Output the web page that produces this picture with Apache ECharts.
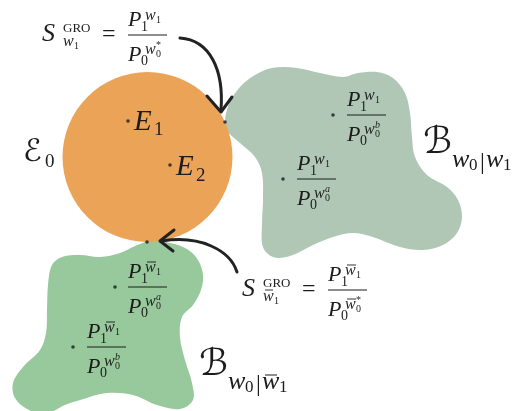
<!DOCTYPE html>
<html><head><meta charset="utf-8">
<script src="https://cdn.jsdelivr.net/npm/echarts@6/dist/echarts.min.js"></script>
<style>html,body{margin:0;padding:0;background:#fff}#c{width:526px;height:411px}</style>
</head><body><div id="c"></div>
<script>
// ---- data (diagram coordinates) ----
const circleE0 = [[147.5, 157, 85]]; // cx, cy, r
const blobRight = [[225,122],[229,104],[240,87],[255,75],[272,68],[297,68],[320,73],[343,77],[358,73],[377,72],[393,78],[405,93],[410,113],[412,137],[415,157],[427,175],[447,187],[458,200],[462,217],[457,233],[443,245],[423,250],[400,247],[373,237],[353,233],[333,237],[313,245],[290,256],[273,257],[263,247],[262,223],[263,200],[262,173],[255,157],[240,143],[228,132]];
const blobBottom = [[150,241],[170,243],[187,249],[198,260],[203,275],[201,290],[193,305],[182,317],[180,337],[185,360],[192,383],[193,400],[180,409],[157,405],[133,395],[107,393],[80,400],[65,405],[45,414],[27,409],[15,398],[13,383],[23,367],[40,350],[46,333],[47,310],[48,285],[52,265],[62,257],[80,255],[100,257],[120,253],[135,246]];
const dots = [[225,122],[147,242],[128,121],[170,165],[333,115],[283,179],[115,287],[73,347]];
const arrowTop = [[180,38],[210,40],[224,70],[221,110]];
const arrowTopHead = [[207,96],[221,112],[232,97]];
const arrowBottom = [[237,272],[230,250],[200,235],[162,241]];
const arrowBottomHead = [[174,230],[160,241],[173,251]];
// label anchors: [x, y, kind]
const eqAnchors = [[128,35,0],[328,290,1]];          // S^GRO = fraction (bar left end)
const fracAnchors = [[347,115,0],[297,179,1],[128,287,2],[87,347,3]];
const setAnchors = [[23,163,0],[134,132,1],[176,177,2],[423,155,3],[199,377,4]];

// ---- styles ----
const C_ORANGE = '#EBA358', C_GREY = '#AFC7B4', C_GREEN = '#98C99C', INK = '#1c1c1c';
const F = '"Liberation Serif","DejaVu Serif",serif';
const FM = '"DejaVu Serif","DejaVu Sans","Liberation Serif",serif';

function T(t, x, base, size, it, font) {
  return {type:'text', x:x, y:base - 0.32*size,
    style:{text:t, font:(it?'italic ':'') + size + 'px ' + (font||F), fill:INK, align:'left', verticalAlign:'middle'}};
}
function L(x1,y1,x2,y2,w){return {type:'line', shape:{x1,y1,x2,y2}, style:{stroke:INK, lineWidth:w||1}};}

function fraction(numBar, denBar, tag, tagIt) {
  const c = [L(0,0,39,0,1),
    T('P',0,-8,22,true), T('1',13,-3,14), T('w',17,-14,16,true), T('1',28,-11,10),
    T('P',0,27,22,true), T('0',13,31,14), T('w',17,20,16,true), T('0',28,23,10), T(tag,28,14,10,tagIt)];
  if (numBar) c.push(L(19,-25,28,-25,0.9));
  if (denBar) c.push(L(19,9,28,9,0.9));
  return c;
}
function equation(bar) {
  const c = [T('S',-86,7,26,true), T('GRO',-65,-2,13), T('w',-65,12,16,true), T('1',-54,15,10),
    T('=',-26,7,24)].concat(fraction(bar, bar, '*', false));
  if (bar) c.push(L(-63,0,-55,0,0.9));
  return c;
}
function setLabel(kind) {
  if (kind === 0) return [T('\u2130',0,0,31,false,FM), T('0',22,5,19)];
  if (kind === 1) return [T('E',0,0,29,true), T('1',20,4,19)];
  if (kind === 2) return [T('E',0,0,29,true), T('2',20,5,19)];
  const c = [T('\u212C',0,0,37,false,FM), T('w',29,13,26,true), T('0',46,16,17), T('|',57,15,24), T('w',63,13,26,true), T('1',80,16,17)];
  if (kind === 4) c.push(L(66,-2,78,-2,1));
  return c;
}

const chart = echarts.init(document.getElementById('c'));
chart.setOption({
  animation:false,
  grid:{left:0,right:0,top:0,bottom:0},
  xAxis:{type:'value',min:0,max:526,show:false},
  yAxis:{type:'value',min:0,max:411,inverse:true,show:false},
  series:[
    {type:'custom', clip:false, data:[[0],[1]], z:1,
     renderItem:function(p, api){
       const src = api.value(0) === 0 ? blobRight : blobBottom;
       return {type:'polygon', shape:{points:src.map(q=>api.coord(q)), smooth:0.35},
         style:{fill: api.value(0) === 0 ? C_GREY : C_GREEN}};
     }},
    {type:'custom', clip:false, data:circleE0, z:2,
     renderItem:function(p, api){
       const c = api.coord([api.value(0), api.value(1)]);
       const r = api.size([api.value(2), 0])[0];
       return {type:'circle', shape:{cx:c[0], cy:c[1], r:r}, style:{fill:C_ORANGE}};
     }},
    {type:'scatter', data:dots, symbolSize:3.6, itemStyle:{color:INK}, z:5, silent:true},
    {type:'custom', clip:false, data:[[0],[1]], z:4,
     renderItem:function(p, api){
       const a = api.value(0) === 0 ? arrowTop : arrowBottom;
       const h = api.value(0) === 0 ? arrowTopHead : arrowBottomHead;
       const q = a.map(v=>api.coord(v));
       return {type:'group', children:[
         {type:'bezierCurve', shape:{x1:q[0][0],y1:q[0][1],cpx1:q[1][0],cpy1:q[1][1],cpx2:q[2][0],cpy2:q[2][1],x2:q[3][0],y2:q[3][1]},
          style:{stroke:'#222', lineWidth:3, fill:null, lineCap:'round'}},
         {type:'polyline', shape:{points:h.map(v=>api.coord(v))}, style:{stroke:'#222', lineWidth:3, fill:null, lineJoin:'round', lineCap:'round'}}
       ]};
     }},
    {type:'custom', clip:false, data:eqAnchors, z:6,
     renderItem:function(p, api){
       const c = api.coord([api.value(0), api.value(1)]);
       return {type:'group', x:c[0], y:c[1], children:equation(api.value(2) === 1)};
     }},
    {type:'custom', clip:false, data:fracAnchors, z:6,
     renderItem:function(p, api){
       const c = api.coord([api.value(0), api.value(1)]);
       const k = api.value(2);
       const tag = (k === 0 || k === 3) ? 'b' : 'a';
       return {type:'group', x:c[0], y:c[1], children:fraction(k >= 2, false, tag, true)};
     }},
    {type:'custom', clip:false, data:setAnchors, z:6,
     renderItem:function(p, api){
       const c = api.coord([api.value(0), api.value(1)]);
       return {type:'group', x:c[0], y:c[1], children:setLabel(api.value(2))};
     }}
  ]
});
</script></body></html>
